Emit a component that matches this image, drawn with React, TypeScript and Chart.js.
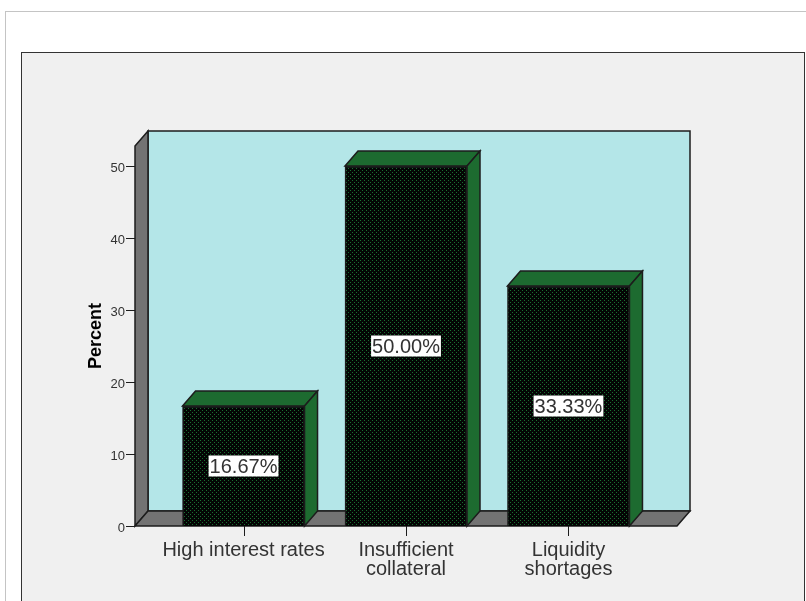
import { useEffect, useRef } from "react";
import { Chart, registerables } from "chart.js";

Chart.register(...registerables);

const categories: string[][] = [["High interest rates"], ["Insufficient", "collateral"], ["Liquidity", "shortages"]];
const percents = [16.67, 50.0, 33.33];
const positions = [1, 2, 3];
const yTicks = [0, 10, 20, 30, 40, 50];

const FONT = '"Liberation Sans", Arial, sans-serif';
const DEPTH_X = 13;
const DEPTH_Y = 15;
const BAR_WIDTH = 122;
const OUTLINE = "#1c1c1c";

function makeDotPattern(ctx: CanvasRenderingContext2D) {
  const tile = document.createElement("canvas");
  tile.width = 4;
  tile.height = 4;
  const t = tile.getContext("2d")!;
  t.fillStyle = "#030504";
  t.fillRect(0, 0, 4, 4);
  t.fillStyle = "#1a6e30";
  t.fillRect(0, 0, 1, 1);
  t.fillRect(2, 2, 1, 1);
  return ctx.createPattern(tile, "repeat")!;
}

function poly(ctx: CanvasRenderingContext2D, pts: number[][], fill: string) {
  ctx.beginPath();
  pts.forEach(([x, y], i) => (i ? ctx.lineTo(x, y) : ctx.moveTo(x, y)));
  ctx.closePath();
  ctx.fillStyle = fill;
  ctx.fill();
  ctx.strokeStyle = OUTLINE;
  ctx.lineWidth = 1.5;
  ctx.stroke();
}

// Back wall, side wall, floor and the top/side faces of each bar.
const extrusion = {
  id: "extrusion",
  beforeDatasetsDraw(chart: any) {
    const { ctx, chartArea: a, scales } = chart;
    const { left: l, right: r, top: t, bottom: b } = a;
    const dx = DEPTH_X;
    const dy = DEPTH_Y;
    ctx.save();
    poly(ctx, [[l + dx, t - dy], [r + dx, t - dy], [r + dx, b - dy], [l + dx, b - dy]], "#b4e6e8");
    poly(ctx, [[l, t], [l + dx, t - dy], [l + dx, b - dy], [l, b]], "#737373");
    poly(ctx, [[l, b], [l + dx, b - dy], [r + dx, b - dy], [r, b]], "#737373");
    percents.forEach((v, i) => {
      const cx = scales.x.getPixelForValue(positions[i]);
      const x0 = cx - BAR_WIDTH / 2;
      const x1 = cx + BAR_WIDTH / 2;
      const y = scales.y.getPixelForValue(v);
      poly(ctx, [[x0, y], [x0 + dx, y - dy], [x1 + dx, y - dy], [x1, y]], "#1d6b30");
      poly(ctx, [[x1, y], [x1 + dx, y - dy], [x1 + dx, b - dy], [x1, b]], "#1d6b30");
    });
    ctx.restore();
  },
  afterDatasetsDraw(chart: any) {
    const { ctx, scales } = chart;
    ctx.save();
    ctx.font = `20px ${FONT}`;
    ctx.textAlign = "center";
    ctx.textBaseline = "middle";
    percents.forEach((v, i) => {
      const cx = scales.x.getPixelForValue(positions[i]);
      const cy = scales.y.getPixelForValue(v / 2);
      const text = `${v.toFixed(2)}%`;
      const w = ctx.measureText(text).width + 2;
      ctx.fillStyle = "#ffffff";
      ctx.fillRect(cx - w / 2, cy - 10.5, w, 21);
      ctx.fillStyle = "#333333";
      ctx.fillText(text, cx, cy + 1);
    });
    ctx.restore();
  },
};

export default function App() {
  const ref = useRef<HTMLCanvasElement>(null);

  useEffect(() => {
    document.body.style.margin = "0";
    document.body.style.overflow = "hidden";
    const ctx = ref.current!.getContext("2d")!;
    const chart = new Chart(ctx, {
      type: "bar",
      data: {
        datasets: [
          {
            data: positions.map((x, i) => ({ x, y: percents[i] })),
            backgroundColor: makeDotPattern(ctx),
            borderColor: OUTLINE,
            borderWidth: 1.5,
            barThickness: BAR_WIDTH,
          },
        ],
      },
      options: {
        animation: false,
        responsive: false,
        layout: { padding: { top: 146, right: 129, left: 85, bottom: 0 } },
        plugins: { legend: { display: false }, tooltip: { enabled: false } },
        scales: {
          x: {
            type: "linear",
            offset: false,
            min: 0.332,
            max: 3.668,
            afterBuildTicks: (s: any) => {
              s.ticks = positions.map((value) => ({ value }));
            },
            afterFit: (s: any) => {
              s.height = 75;
            },
            grid: { display: false },
            border: { display: false },
            ticks: {
              autoSkip: false,
              maxRotation: 0,
              color: "#333333",
              font: { family: FONT, size: 20, lineHeight: 0.95 },
              padding: 7,
              callback: (v: any) => categories[positions.indexOf(Number(v))],
            },
          },
          y: {
            min: 0,
            max: 380 / 7.2,
            afterBuildTicks: (s: any) => {
              s.ticks = yTicks.map((value) => ({ value }));
            },
            afterFit: (s: any) => {
              s.width = 50;
            },
            grid: { display: false },
            border: { display: false },
            title: {
              display: true,
              text: "Percent",
              color: "#000000",
              font: { family: FONT, size: 18, weight: "bold" },
              padding: 0,
            },
            ticks: { color: "#333333", font: { family: FONT, size: 13 }, padding: 2, labelOffset: 2 },
          },
        },
      },
      plugins: [
        extrusion,
        {
          id: "tickMarks",
          afterDraw(c: any) {
            const { ctx: g, scales, chartArea: a } = c;
            g.save();
            g.strokeStyle = OUTLINE;
            g.lineWidth = 1;
            g.beginPath();
            yTicks.forEach((v) => {
              const y = Math.round(scales.y.getPixelForValue(v)) + 0.5;
              g.moveTo(a.left - 9, y);
              g.lineTo(a.left, y);
            });
            positions.forEach((v) => {
              const x = Math.round(scales.x.getPixelForValue(v)) + 0.5;
              g.moveTo(x, a.bottom);
              g.lineTo(x, a.bottom + 10);
            });
            g.stroke();
            g.restore();
          },
        },
      ],
    } as any);
    return () => chart.destroy();
  }, []);

  return (
    <div style={{ position: "fixed", inset: 0, width: 806, height: 601, overflow: "hidden", background: "#fff" }}>
      <div style={{ position: "absolute", left: 5, top: 11, width: 820, height: 620, borderLeft: "1px solid #c4c4c4", borderTop: "1px solid #c4c4c4" }} />
      <div style={{ position: "absolute", left: 21, top: 52, width: 782, height: 620, background: "#f0f0f0", border: "1.5px solid #333" }} />
      <canvas ref={ref} width={806} height={601} style={{ position: "absolute", left: 0, top: 0 }} />
    </div>
  );
}
